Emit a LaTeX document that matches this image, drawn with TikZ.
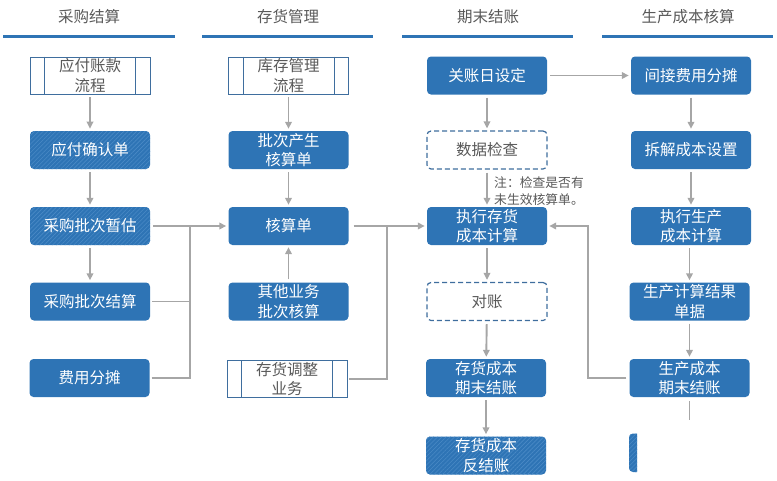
\documentclass[tikz,border=0pt]{standalone}
\usepackage{fontspec}
\setmainfont{Noto Sans CJK SC}
\usetikzlibrary{arrows.meta,patterns.meta}
\definecolor{boxblue}{HTML}{2E74B5}
\definecolor{hatchblue}{HTML}{4A8AC6}
\definecolor{edgeblue}{HTML}{3F6E9E}
\definecolor{linegray}{HTML}{A6A6A6}
\definecolor{textgray}{HTML}{595959}
\tikzset{
  stepbox/.style={rectangle,rounded corners=4pt,fill=boxblue,text=white,
    minimum width=120pt,minimum height=38pt,align=center,inner sep=0pt,
    font=\fontsize{15.5}{19.5}\selectfont},
  hatchbox/.style={stepbox,preaction={fill=boxblue},
    pattern={Lines[angle=45,distance=3pt,line width=0.6pt]},pattern color=hatchblue},
  checkbox/.style={stepbox,fill=white,text=textgray,draw=edgeblue,dashed,
    dash pattern=on 5pt off 3pt,line width=1.2pt},
  procbox/.style={rectangle,draw=edgeblue,line width=0.9pt,fill=white,text=textgray,
    minimum width=120pt,minimum height=37pt,align=center,inner sep=0pt,
    font=\fontsize{15.5}{19.5}\selectfont},
  head/.style={text=textgray,font=\fontsize{15.5}{18}\selectfont},
  bar/.style={line width=3.5pt,boxblue},
  flow/.style={draw=linegray,line width=1.9pt,-{Triangle[length=7pt,width=6.5pt]},
    shorten <=3pt,shorten >=2pt},
  link/.style={draw=linegray,line width=1.9pt,shorten <=2pt},
}
\begin{document}
\begin{tikzpicture}[x=1pt,y=-1pt]
  \useasboundingbox (0,0) rectangle (777,480);
  % column heads
  \node[head] (h1) at (89,17) {采购结算};
  \node[head] (h2) at (288,17) {存货管理};
  \node[head] (h3) at (488,17) {期末结账};
  \node[head] (h4) at (688,17) {生产成本核算};
  \draw[bar] (3,36.5) -- (175,36.5);
  \draw[bar] (202,36.5) -- (373,36.5);
  \draw[bar] (402,36.5) -- (573,36.5);
  \draw[bar] (602,36.5) -- (773,36.5);

  % purchase settlement
  \node[procbox] (pay) at (90,75.5) {应付账款\\流程};
  \node[hatchbox] (confirm) at (90,150) {应付确认单};
  \node[hatchbox] (est) at (90,226) {采购批次暂估};
  \node[stepbox] (settle) at (90,301.5) {采购批次结算};
  \node[stepbox] (fee) at (89.5,378) {费用分摊};

  % inventory management
  \node[procbox] (invflow) at (288.5,75.5) {库存管理\\流程};
  \node[stepbox] (batch) at (288.5,150) {批次产生\\核算单};
  \node[stepbox] (acct) at (288.5,226) {核算单};
  \node[stepbox] (other) at (288.5,301.5) {其他业务\\批次核算};
  \node[procbox] (adj) at (287,379) {存货调整\\业务};

  % period end closing
  \node[stepbox] (close) at (487,75.5) {关账日设定};
  \node[checkbox] (check) at (487,150) {数据检查};
  \node[stepbox] (run) at (487,226) {执行存货\\成本计算};
  \node[checkbox] (recon) at (487,301.5) {对账};
  \node[stepbox] (endc) at (486,378) {存货成本\\期末结账};
  \node[hatchbox] (undo) at (486,455.5) {存货成本\\反结账};
  \node[text=textgray,anchor=west,align=left,inner sep=0pt,
    font=\fontsize{12.8}{16.5}\selectfont] (note) at (494,191)
    {注：检查是否有\\未生效核算单。};

  % production cost
  \node[stepbox] (alloc) at (691,75.5) {间接费用分摊};
  \node[stepbox] (split) at (691,150) {拆解成本设置};
  \node[stepbox] (prun) at (691,226) {执行生产\\成本计算};
  \node[stepbox] (pres) at (689.5,301.5) {生产计算结果\\单据};
  \node[stepbox] (pend) at (689.5,378) {生产成本\\期末结账};
  \path[preaction={fill=boxblue},pattern={Lines[angle=45,distance=3pt,line width=0.6pt]},
    pattern color=hatchblue,rounded corners=4pt]
    (637,433.5) -- (629,433.5) -- (629,472) [sharp corners] -- (637,472) -- cycle;

  % side lines of the process boxes
  \foreach \n in {pay,invflow,adj} {
    \draw[edgeblue,line width=0.9pt] ([xshift=15pt]\n.north west) -- ([xshift=15pt]\n.south west);
    \draw[edgeblue,line width=0.9pt] ([xshift=-15pt]\n.north east) -- ([xshift=-15pt]\n.south east);
  }

  \coordinate (j1) at (190,226);
  \coordinate (j2) at (387,226);
  \coordinate (j3) at (588,226);
  \coordinate (tail) at (689.5,420);

  % connectors
  \draw[flow] (pay) -- (confirm);
  \draw[flow] (confirm) -- (est);
  \draw[flow] (est) -- (settle);
  \draw[flow] (est) -- (acct);
  \draw[link] (settle.east) -| (j1);
  \draw[link] (fee.east) -| (j1);
  \draw[flow] (invflow) -- (batch);
  \draw[flow] (batch) -- (acct);
  \draw[flow] (other) -- (acct);
  \draw[flow,shorten <=5pt] (acct) -- (run);
  \draw[link] (adj.east) -| (j2);
  \draw[flow] (close) -- (check);
  \draw[flow] (close) -- (alloc);
  \draw[flow] (check) -- (run);
  \draw[flow] (run) -- (recon);
  \draw[flow] (recon) -- (endc);
  \draw[flow] (endc) -- (undo);
  \draw[flow] (pend.west) -| (j3) -- (run.east);
  \draw[flow] (alloc) -- (split);
  \draw[flow] (split) -- (prun);
  \draw[flow] (prun.south -| pres) -- (pres);
  \draw[flow] (pres) -- (pend);
  \draw[link,line width=1.5pt,shorten <=4pt] (pend.south) -- (tail);
\end{tikzpicture}
\end{document}
